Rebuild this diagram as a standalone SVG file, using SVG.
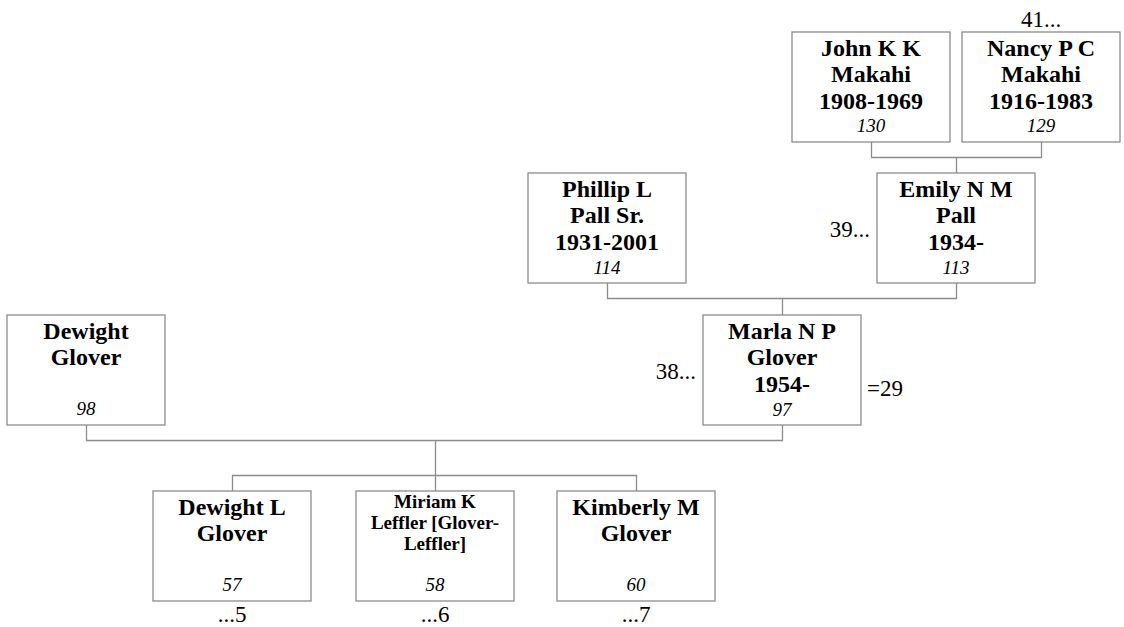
<svg xmlns="http://www.w3.org/2000/svg" width="1124" height="627" viewBox="0 0 1124 627">
<style>
text{font-family:'Liberation Serif','Tinos','DejaVu Serif',serif;fill:#000}
.box{fill:#fff;stroke:#8c8c8c;stroke-width:1.3}
.n{font-weight:bold;font-size:24px;text-anchor:middle}
.s{font-weight:bold;font-size:19px;text-anchor:middle}
.id{font-style:italic;font-size:19px;text-anchor:middle}
.o{font-size:23px}
.c{fill:none;stroke:#8c8c8c;stroke-width:1.3}
</style>
<rect width="1124" height="627" fill="#fff"/>
<g id="connectors">
<path class="c" d="M871.5,142 V157.5 H1041.5 V142 M956.5,157.5 V173"/>
<path class="c" d="M607.5,283 V298.5 H956.5 V283 M782.5,298.5 V315"/>
<path class="c" d="M86.5,425 V440.5 H782.5 V425 M435.5,440.5 V475.5"/>
<path class="c" d="M232.5,491 V475.5 H636.5 V491 M435.5,475.5 V491"/>
</g>
<g id="john">
<rect class="box" x="792" y="32" width="158" height="110"/>
<text class="n" x="871" y="56">John K K</text>
<text class="n" x="871" y="82">Makahi</text>
<text class="n" x="871" y="109">1908-1969</text>
<text class="id" x="871" y="132">130</text>
</g>
<g id="nancy">
<rect class="box" x="962" y="32" width="158" height="110"/>
<text class="n" x="1041" y="56">Nancy P C</text>
<text class="n" x="1041" y="82">Makahi</text>
<text class="n" x="1041" y="109">1916-1983</text>
<text class="id" x="1041" y="132">129</text>
<text class="o" x="1041" y="27" text-anchor="middle">41...</text>
</g>
<g id="phillip">
<rect class="box" x="528" y="173" width="158" height="110"/>
<text class="n" x="607" y="197">Phillip L</text>
<text class="n" x="607" y="223">Pall Sr.</text>
<text class="n" x="607" y="250">1931-2001</text>
<text class="id" x="607" y="274">114</text>
</g>
<g id="emily">
<rect class="box" x="877" y="173" width="158" height="110"/>
<text class="n" x="956" y="197">Emily N M</text>
<text class="n" x="956" y="223">Pall</text>
<text class="n" x="956" y="250">1934-</text>
<text class="id" x="956" y="274">113</text>
<text class="o" x="870" y="237" text-anchor="end">39...</text>
</g>
<g id="dewight">
<rect class="box" x="7" y="315" width="158" height="110"/>
<text class="n" x="86" y="339">Dewight</text>
<text class="n" x="86" y="365">Glover</text>
<text class="id" x="86" y="415">98</text>
</g>
<g id="marla">
<rect class="box" x="703" y="315" width="158" height="110"/>
<text class="n" x="782" y="339">Marla N P</text>
<text class="n" x="782" y="365">Glover</text>
<text class="n" x="782" y="392">1954-</text>
<text class="id" x="782" y="416">97</text>
<text class="o" x="696" y="379" text-anchor="end">38...</text>
<text class="o" x="867" y="396">=29</text>
</g>
<g id="dewightl">
<rect class="box" x="153" y="491" width="158" height="110"/>
<text class="n" x="232" y="515">Dewight L</text>
<text class="n" x="232" y="541">Glover</text>
<text class="id" x="232" y="591">57</text>
<text class="o" x="232" y="622" text-anchor="middle">...5</text>
</g>
<g id="miriam">
<rect class="box" x="356" y="491" width="158" height="110"/>
<text class="s" x="435" y="508">Miriam K</text>
<text class="s" x="435" y="529">Leffler [Glover-</text>
<text class="s" x="435" y="550">Leffler]</text>
<text class="id" x="435" y="591">58</text>
<text class="o" x="435" y="622" text-anchor="middle">...6</text>
</g>
<g id="kimberly">
<rect class="box" x="557" y="491" width="158" height="110"/>
<text class="n" x="636" y="515">Kimberly M</text>
<text class="n" x="636" y="541">Glover</text>
<text class="id" x="636" y="591">60</text>
<text class="o" x="636" y="622" text-anchor="middle">...7</text>
</g>
</svg>
